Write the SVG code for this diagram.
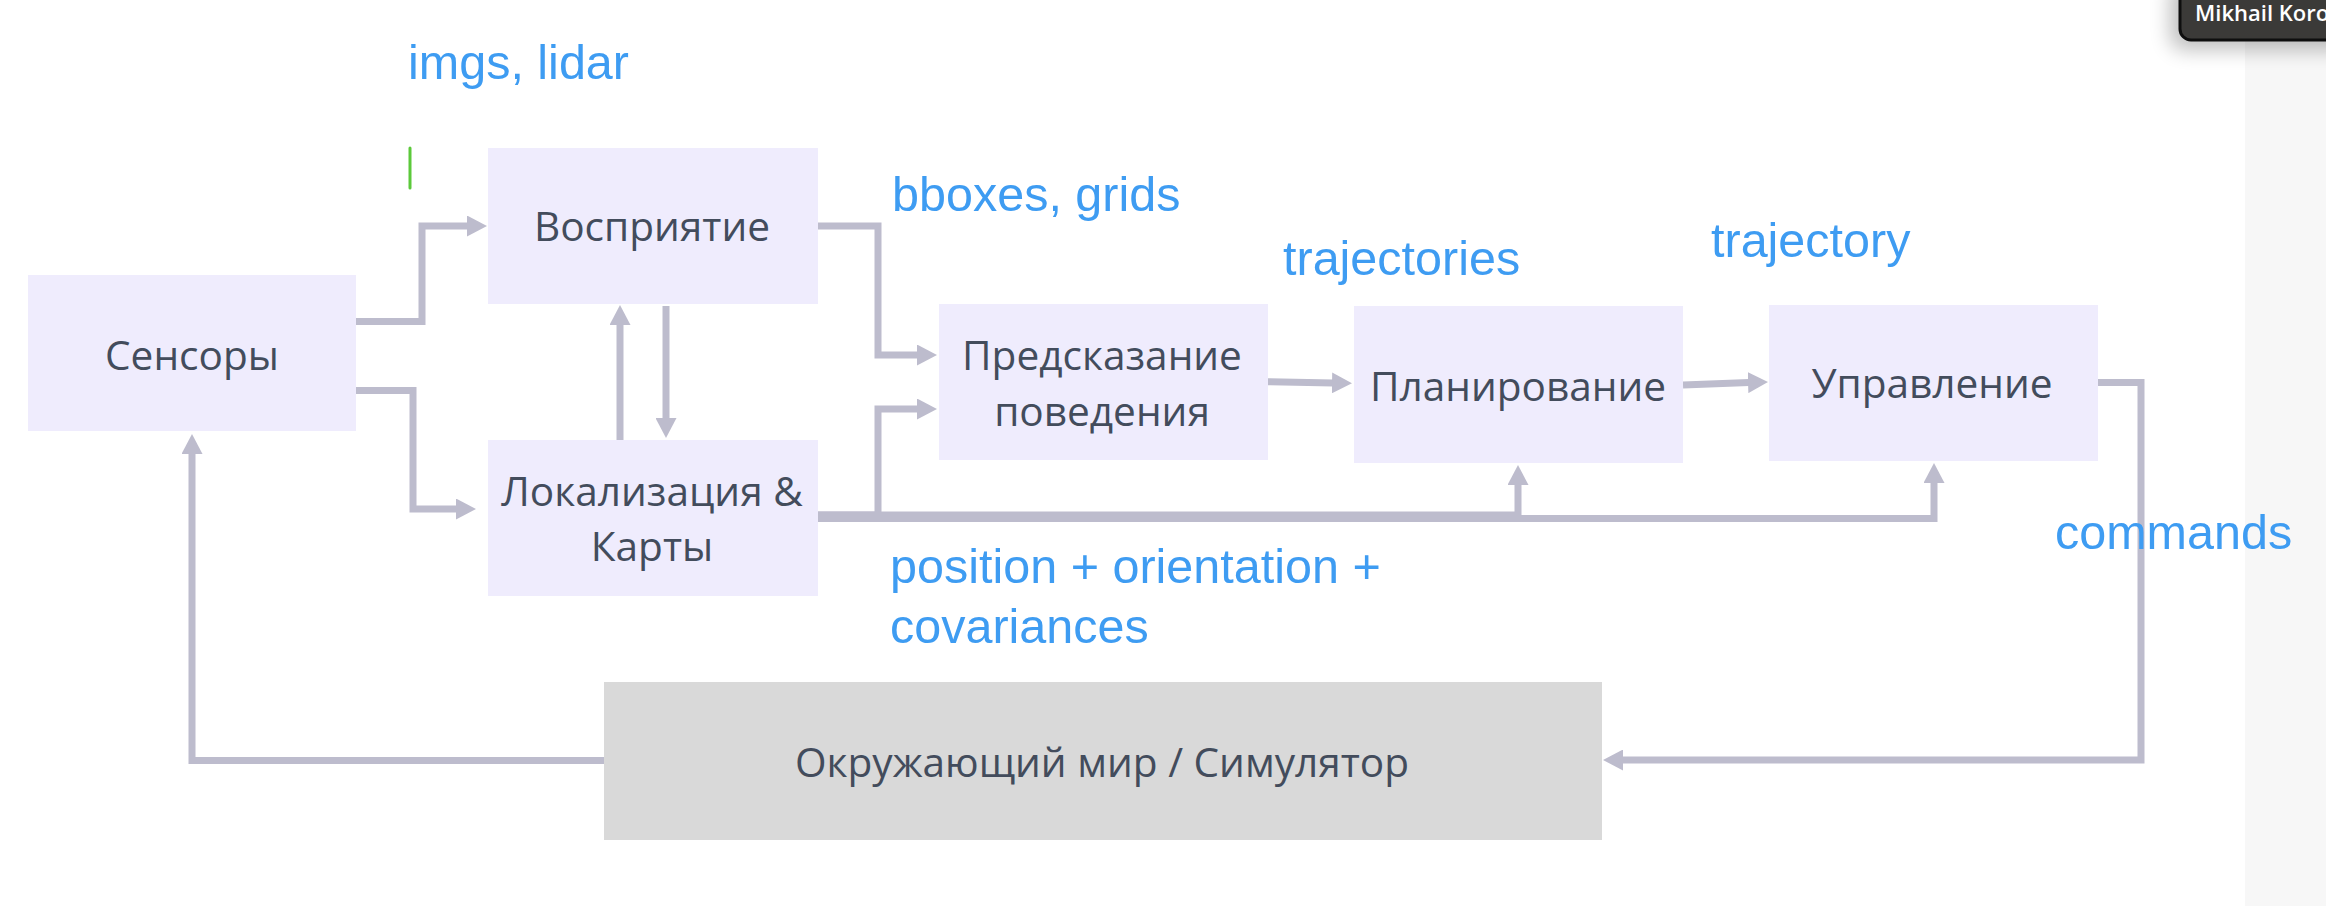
<svg xmlns="http://www.w3.org/2000/svg" width="2326" height="906" viewBox="0 0 2326 906">
  <defs>
    <style>
      .node { fill: #efecfd; }
      .env { fill: #d9d9d9; }
      .nt { font-family: "Open Sans", "Noto Sans", "Liberation Sans", sans-serif; font-size: 40.6px; font-weight: 500; fill: #434c5c; text-anchor: middle; }
      .lbl { font-family: "Liberation Sans", Arial, sans-serif; font-size: 48.5px; fill: #3e9cf2; }
      .conn { fill: none; stroke: #bdbccd; stroke-width: 7; stroke-linejoin: miter; stroke-linecap: butt; }
    </style>
    <marker id="ah" viewBox="0 0 20 21" refX="1" refY="10.5" markerWidth="20" markerHeight="21" markerUnits="userSpaceOnUse" orient="auto">
      <path d="M0,0 L20,10.5 L0,21 Z" fill="#bdbccd"/>
    </marker>
    <filter id="sh" x="-50%" y="-50%" width="200%" height="200%">
      <feGaussianBlur stdDeviation="10"/>
    </filter>
  </defs>

  <rect width="2326" height="906" fill="#ffffff"/>
  <rect x="2245" y="0" width="81" height="906" fill="#f7f7f7"/>

  <g id="connectors">
    <path class="conn" marker-end="url(#ah)" d="M356,321.5 H422 V226 H468"/>
    <path class="conn" marker-end="url(#ah)" d="M356,390.5 H413 V509 H457"/>
    <path class="conn" marker-end="url(#ah)" d="M620,440 V324"/>
    <path class="conn" marker-end="url(#ah)" d="M666,306 V419"/>
    <path class="conn" marker-end="url(#ah)" d="M817,226 H878 V355 H918"/>
    <path class="conn" marker-end="url(#ah)" d="M817,515 H878 V409 H918"/>
    <path class="conn" marker-end="url(#ah)" d="M817,515 H1518 V484"/>
    <path class="conn" marker-end="url(#ah)" d="M817,518.5 H1934 V482"/>
    <path class="conn" marker-end="url(#ah)" d="M1267,381.7 L1333,383"/>
    <path class="conn" marker-end="url(#ah)" d="M1683,385 L1749,382.6"/>
    <path class="conn" marker-end="url(#ah)" d="M2098,382.5 H2141 V760 H1622"/>
    <path class="conn" marker-end="url(#ah)" d="M604,760.5 H192 V453"/>
  </g>

  <g id="sensors">
    <rect class="node" x="28" y="275" width="328" height="156"/>
    <text class="nt" x="192" y="370">Сенсоры</text>
  </g>
  <g id="perception">
    <rect class="node" x="488" y="148" width="330" height="156"/>
    <text class="nt" x="652" y="241">Восприятие</text>
  </g>
  <g id="localization">
    <rect class="node" x="488" y="440" width="330" height="156"/>
    <text class="nt" x="652" y="506">Локализация &amp;</text>
    <text class="nt" x="652" y="561">Карты</text>
  </g>
  <g id="prediction">
    <rect class="node" x="939" y="304" width="329" height="156"/>
    <text class="nt" x="1102" y="370">Предсказание</text>
    <text class="nt" x="1102" y="426">поведения</text>
  </g>
  <g id="planning">
    <rect class="node" x="1354" y="306" width="329" height="157"/>
    <text class="nt" x="1518" y="401">Планирование</text>
  </g>
  <g id="control">
    <rect class="node" x="1769" y="305" width="329" height="156"/>
    <text class="nt" x="1932" y="398">Управление</text>
  </g>
  <g id="environment">
    <rect class="env" x="604" y="682" width="998" height="158"/>
    <text class="nt" x="1102" y="777">Окружающий мир / Симулятор</text>
  </g>

  <g id="labels">
    <text class="lbl" x="408" y="79">imgs, lidar</text>
    <text class="lbl" x="892" y="211">bboxes, grids</text>
    <text class="lbl" x="1283" y="275">trajectories</text>
    <text class="lbl" x="1711" y="257">trajectory</text>
    <text class="lbl" x="890" y="583">position + orientation +</text>
    <text class="lbl" x="890" y="643">covariances</text>
    <text class="lbl" x="2055" y="549">commands</text>
  </g>

  <line id="cursor" x1="410" y1="148" x2="410" y2="188" stroke="#5cc93b" stroke-width="3" stroke-linecap="round"/>

  <g id="name-tag">
    <rect x="2170" y="-20" width="180" height="70" rx="14" fill="#000000" opacity="0.25" filter="url(#sh)"/>
    <rect x="2180" y="-12" width="170" height="52" rx="11" fill="#3b3a38" stroke="#0e0e0e" stroke-width="3"/>
    <text x="2195" y="21" font-family="'Open Sans', 'Liberation Sans', sans-serif" font-size="22" font-weight="600" fill="#ffffff">Mikhail Koro</text>
  </g>
</svg>
